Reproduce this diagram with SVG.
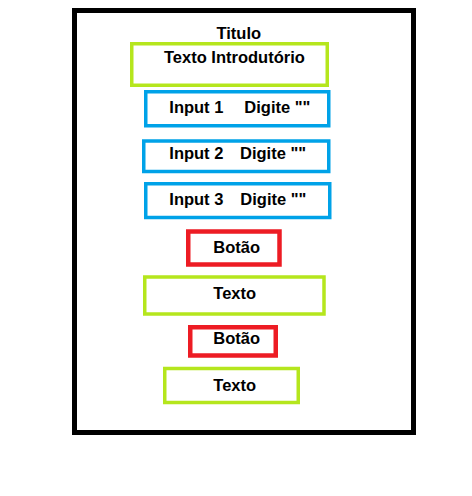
<svg xmlns="http://www.w3.org/2000/svg" width="472" height="496" viewBox="0 0 472 496">
<style>
text{font-family:"Liberation Sans",Arial,sans-serif;font-weight:bold;font-size:16.5px;fill:#000}
.g{fill:none;stroke:#B5E61D;stroke-width:3.5}
.b{fill:none;stroke:#00A2E8;stroke-width:3.5}
.r{fill:none;stroke:#ED1C24;stroke-width:4.5}
</style>
<rect width="472" height="496" fill="#fff"/>
<g id="frame"><rect x="74.5" y="10.5" width="339" height="422" fill="none" stroke="#000" stroke-width="5"/></g>
<g id="titulo"><text x="216.5" y="39">Titulo</text></g>
<g id="intro"><rect class="g" x="131.75" y="43.75" width="195.5" height="41.5"/><text x="164" y="63.3">Texto Introdutório</text></g>
<g id="input1"><rect class="b" x="145.75" y="91.75" width="183" height="34"/><text x="169.3" y="113.3">Input 1</text><text x="244.3" y="113.3">Digite ""</text></g>
<g id="input2"><rect class="b" x="143.75" y="141" width="185" height="30.5"/><text x="169.3" y="159.3">Input 2</text><text x="240" y="159.3">Digite ""</text></g>
<g id="input3"><rect class="b" x="145.75" y="183.75" width="184" height="33.75"/><text x="169.3" y="205">Input 3</text><text x="240.3" y="205">Digite ""</text></g>
<g id="botao1"><rect class="r" x="188.25" y="231.5" width="91.25" height="33"/><text x="213.3" y="252.7">Botão</text></g>
<g id="texto1"><rect class="g" x="144.75" y="277" width="179.25" height="37"/><text x="213.3" y="298.7">Texto</text></g>
<g id="botao2"><rect class="r" x="190.25" y="327.25" width="85.5" height="28.25"/><text x="213.3" y="344.3">Botão</text></g>
<g id="texto2"><rect class="g" x="164.75" y="368.5" width="133.5" height="34"/><text x="213.3" y="390.7">Texto</text></g>
<g id="connectors"/>
</svg>
